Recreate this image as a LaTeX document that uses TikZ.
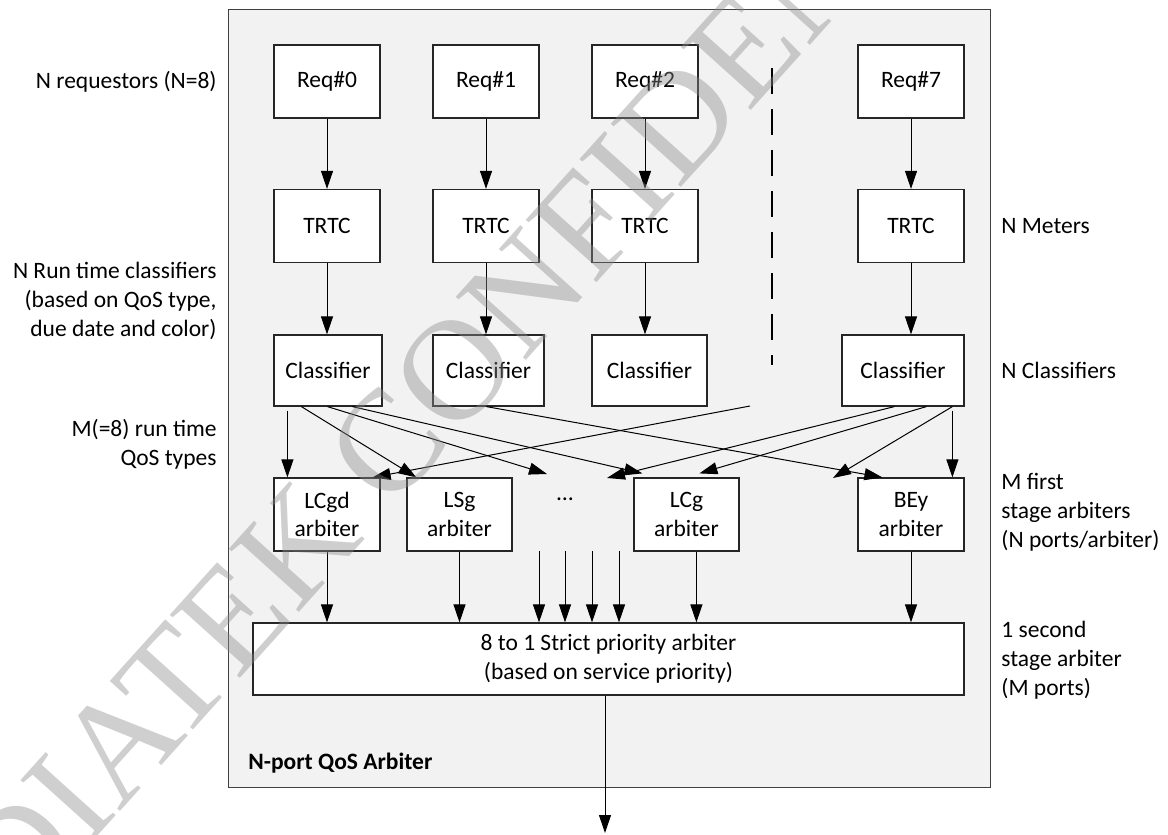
\documentclass[tikz,border=0pt]{standalone}
\usepackage{fontspec}
\setmainfont{Carlito}
\newfontfamily\wmfont{Liberation Serif}
\usetikzlibrary{arrows.meta,calc}

\tikzset{
  every node/.style={font=\fontsize{11.75pt}{14.4pt}\selectfont, inner sep=0pt},
  blk/.style={draw=black!85, line width=0.6pt, fill=white, align=center,
              minimum width=53pt, minimum height=36.5pt},
  arr/.style={-{Triangle[length=9pt,width=6pt]}, line width=0.5pt, draw=black},
  lblr/.style={anchor=east, align=right},
  lbll/.style={anchor=west, align=left},
}

\begin{document}
\begin{tikzpicture}[x=0.5pt, y=-0.5pt]
\useasboundingbox (0,0) rectangle (1168,835);

% enclosing block
\node[draw=black!75, line width=0.5pt, fill=black!5,
      minimum width=381pt, minimum height=389pt] (frame) at (609,398) {};

% requestors
\node[blk] (r0) at (327,81.5) {Req\#0};
\node[blk] (r1) at (486,81.5) {Req\#1};
\node[blk] (r2) at (645,81.5) {Req\#2};
\node[blk] (r7) at (911,81.5) {Req\#7};

% meters
\node[blk] (t0) at (327,226) {TRTC};
\node[blk] (t1) at (486,226) {TRTC};
\node[blk] (t2) at (645,226) {TRTC};
\node[blk] (t7) at (911,226) {TRTC};

% classifiers
\node[blk, minimum width=54pt, minimum height=35.5pt]   (c0) at (328,370.5) {Classifier};
\node[blk, minimum width=55.5pt, minimum height=35.5pt] (c1) at (488.5,370.5) {Classifier};
\node[blk, minimum width=57.5pt, minimum height=35.5pt] (c2) at (649.5,370.5) {Classifier};
\node[blk, minimum width=61pt, minimum height=35.5pt]   (c7) at (903,370.5) {Classifier};

% first stage arbiters
\node[blk] (a0) at (327,514.5) {LCgd\\arbiter};
\node[blk, minimum width=52.5pt] (a1) at (459.5,514.5) {LSg\\arbiter};
\node (dots) at (565,499) {…};
\node[blk, minimum width=52.5pt] (a2) at (686.5,514.5) {LCg\\arbiter};
\node[blk] (a3) at (911,514.5) {BEy\\arbiter};

% second stage arbiter
\node[blk, minimum width=355.5pt, minimum height=36pt] (p) at (608.5,659)
  {8 to 1 Strict priority arbiter\\(based on service priority)};

\node[anchor=west, font=\fontsize{11.75pt}{14.4pt}\selectfont\bfseries] (title) at (248,763) {N-port QoS Arbiter};

% elided requestors
\coordinate (dtop) at (771.5,68);
\coordinate (dbot) at (771.5,365);
\draw[line width=1pt, dash pattern=on 13pt off 7.5pt] (dtop) -- (dbot);

% requestor -> meter -> classifier
\foreach \i in {0,1,2,7}{
  \draw[arr] (r\i.south) -- (t\i.north);
  \draw[arr] (t\i.south) -- (t\i.south |- c\i.north);
}

% classifier -> first stage arbiters
\coordinate (mid) at (547,474);
\coordinate (lcgl) at (607,478);
\coordinate (beyl) at (833,478);
\coordinate (vr) at (750,406);
\draw[arr] ($(c0.south west)+(14,4)$) -- ($(a0.north west)+(14,0)$);
\draw[arr] ($(c0.south west)+(28,0)$) -- ($(a1.north west)+(10,0)$);
\draw[arr] ($(c0.south west)+(54,0)$) -- (mid);
\draw[arr] ($(c0.south west)+(79,0)$) -- ($(a2.north west)+(9,-4)$);
\draw[arr] ($(c1.south west)+(54,0)$) -- ($(a3.north west)+(25,0)$);
\draw[arr] (vr) -- ($(a0.north east)+(-8,0)$);
\draw[arr] ($(c7.south west)+(53,0)$) -- (lcgl);
\draw[arr] ($(c7.south west)+(85,0)$) -- ($(a2.north west)+(66,-4)$);
\draw[arr] ($(c7.south west)+(111,0)$) -- (beyl);
\draw[arr] ($(c7.south west)+(111,4)$) -- ($(a3.north west)+(95,0)$);

% first stage -> second stage
\coordinate (a2o) at ($(a2.south west)+(63,0)$);
\coordinate (m1) at (539,551);
\coordinate (m2) at (565,551);
\coordinate (m3) at (592,551);
\coordinate (m4) at (619,551);
\draw[arr] (a0.south) -- (a0.south |- p.north);
\draw[arr] (a1.south) -- (a1.south |- p.north);
\foreach \m in {m1,m2,m3,m4}{ \draw[arr] (\m) -- (\m |- p.north); }
\draw[arr] (a2o) -- (a2o |- p.north);
\draw[arr] (a3.south) -- (a3.south |- p.north);

% output
\coordinate (out) at (605,833);
\draw[arr] (p.south -| out) -- (out);

% side labels
\node[lblr] (lreq) at (217,82) {N requestors (N=8)};
\node[lblr] (lcls) at (217,301) {N Run time classifiers\\(based on QoS type,\\due date and color)};
\node[lblr] (lqos) at (217,444) {M(=8) run time\\QoS types};
\node[lbll] (lmet) at (1001,226) {N Meters};
\node[lbll] (lcl) at (1001,370) {N Classifiers};
\node[lbll] (lfst) at (1001,512) {M first\\stage arbiters\\(N ports/arbiter)};
\node[lbll] (lsnd) at (1001,660) {1 second\\stage arbiter\\(M ports)};

% watermark
\begin{scope}
\clip (0,0) rectangle (1168,835);
\node[rotate=48, font=\wmfont\fontsize{72pt}{72pt}\selectfont,
      text=black!45, opacity=0.42] (wm) at (450,375) {MEDIATEK CONFIDENTIAL};
\end{scope}
\end{tikzpicture}
\end{document}
